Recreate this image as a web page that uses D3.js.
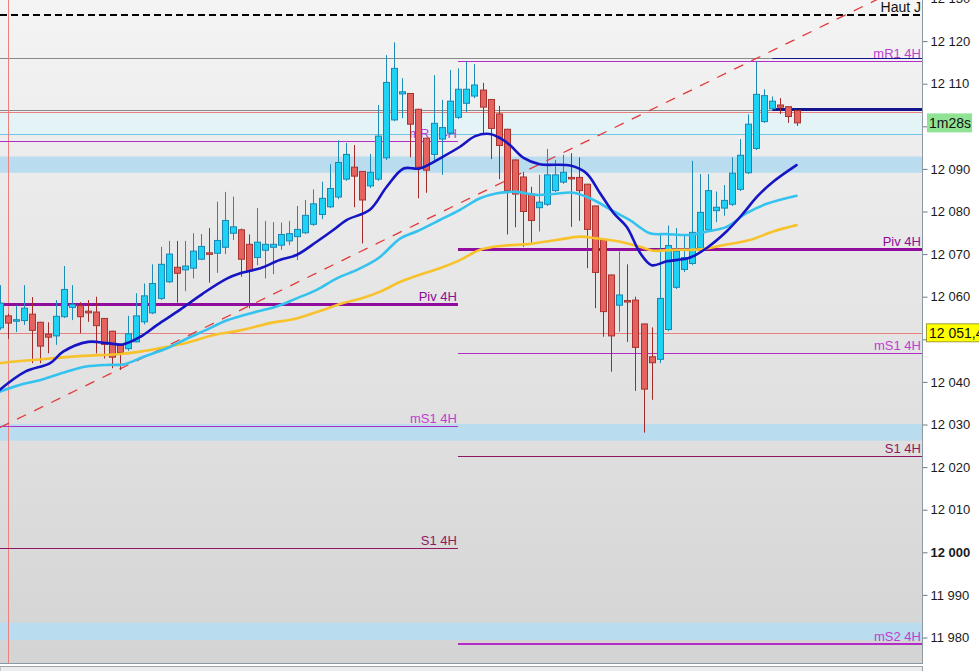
<!DOCTYPE html>
<html>
<head>
<meta charset="utf-8">
<script src="https://cdn.jsdelivr.net/npm/d3@7"></script>
<style>
  body { margin: 0; overflow: hidden; background: #fff; }
  svg { display: block; font-family: "Liberation Sans", Arial, sans-serif; }
</style>
</head>
<body>
<svg id="chart" width="979" height="671"></svg>
<script>
// candles, one per bar, index 1..100
const opens = [
  12052.7, 12055.5, 12054.4, 12054.4, 12055.9, 12054.0, 12051.2, 12050.8, 12055.3, 12057.5,
  12057.9, 12056.6, 12056.4, 12054.9, 12051.9, 12048.7, 12047.8, 12049.4, 12054.1, 12056.2,
  12059.6, 12063.5, 12066.9, 12066.3, 12066.7, 12068.8, 12070.3, 12070.2, 12071.6, 12074.9,
  12075.7, 12072.3, 12069.2, 12070.9, 12071.6, 12072.1, 12073.1, 12074.1, 12075.0, 12077.0,
  12079.3, 12081.1, 12083.4, 12087.6, 12090.4, 12089.4, 12086.0, 12087.6, 12092.6, 12101.5,
  12107.6, 12107.7, 12104.0, 12097.2, 12093.4, 12097.0, 12098.4, 12102.1, 12105.4, 12107.1,
  12108.5, 12106.3, 12102.9, 12099.3, 12092.1, 12088.1, 12084.1, 12080.9, 12081.7, 12084.9,
  12086.9, 12088.0, 12088.0, 12086.4, 12081.3, 12073.3, 12065.1, 12058.0, 12059.1, 12059.2,
  12053.6, 12045.9, 12045.3, 12052.3, 12062.2, 12066.4, 12067.8, 12071.4, 12075.7, 12080.2,
  12080.8, 12081.7, 12085.2, 12089.1, 12094.8, 12101.1, 12104.1, 12105.0, 12104.6, 12103.7
];
const highs = [
  12062.7, 12056.0, 12058.0, 12062.7, 12059.9, 12054.1, 12054.0, 12059.2, 12067.2, 12062.7,
  12058.7, 12059.2, 12060.0, 12055.0, 12052.0, 12048.8, 12055.5, 12060.8, 12063.1, 12067.6,
  12071.7, 12073.1, 12073.1, 12073.1, 12074.9, 12074.7, 12076.1, 12082.3, 12084.6, 12083.5,
  12076.0, 12074.6, 12080.8, 12077.8, 12077.5, 12077.4, 12077.8, 12081.3, 12082.7, 12085.2,
  12087.0, 12091.1, 12096.7, 12096.1, 12095.6, 12089.5, 12093.5, 12105.0, 12116.7, 12119.7,
  12111.3, 12107.8, 12104.1, 12097.3, 12112.0, 12106.2, 12113.2, 12113.6, 12115.2, 12114.6,
  12110.2, 12106.4, 12104.8, 12099.4, 12092.2, 12089.3, 12085.8, 12088.6, 12094.7, 12092.1,
  12093.3, 12093.7, 12092.7, 12086.5, 12081.4, 12073.4, 12065.2, 12070.6, 12067.6, 12060.0,
  12053.7, 12052.8, 12074.6, 12076.7, 12076.1, 12074.6, 12091.9, 12088.8, 12088.8, 12084.7,
  12086.2, 12092.7, 12097.0, 12102.8, 12115.2, 12108.7, 12107.0, 12106.6, 12104.7, 12103.8
];
const lows = [
  12052.2, 12050.1, 12051.7, 12053.4, 12044.4, 12044.4, 12046.7, 12048.7, 12055.0, 12054.5,
  12051.4, 12054.1, 12046.7, 12045.5, 12043.2, 12042.8, 12047.3, 12049.3, 12053.5, 12055.9,
  12059.2, 12063.2, 12058.6, 12061.3, 12064.3, 12068.6, 12063.3, 12065.6, 12070.0, 12073.3,
  12064.7, 12057.3, 12067.4, 12064.3, 12065.3, 12071.0, 12072.1, 12068.6, 12074.7, 12076.6,
  12078.2, 12080.8, 12082.9, 12087.2, 12081.0, 12072.5, 12085.5, 12087.2, 12092.1, 12101.2,
  12101.9, 12092.7, 12083.1, 12084.4, 12092.1, 12088.6, 12098.0, 12101.7, 12103.3, 12106.6,
  12098.1, 12092.3, 12087.6, 12074.6, 12076.3, 12071.7, 12072.7, 12075.3, 12081.3, 12084.6,
  12086.5, 12076.4, 12077.8, 12066.7, 12057.3, 12050.6, 12042.4, 12051.8, 12049.4, 12037.9,
  12028.1, 12035.8, 12044.4, 12051.9, 12061.8, 12065.8, 12067.4, 12071.0, 12075.2, 12077.5,
  12079.0, 12081.3, 12084.8, 12088.8, 12094.4, 12100.8, 12103.8, 12102.9, 12100.8, 12100.1
];
const closes = [
  12058.5, 12053.8, 12054.6, 12057.3, 12052.1, 12048.4, 12050.5, 12055.4, 12061.7, 12058.2,
  12055.3, 12056.2, 12053.2, 12048.8, 12045.8, 12046.9, 12051.3, 12055.5, 12060.2, 12063.1,
  12067.6, 12070.0, 12065.5, 12067.2, 12070.7, 12071.8, 12070.0, 12073.2, 12077.9, 12076.4,
  12068.8, 12066.1, 12072.8, 12072.3, 12072.3, 12074.6, 12074.8, 12075.8, 12079.1, 12081.8,
  12083.1, 12085.4, 12091.5, 12093.4, 12088.3, 12082.7, 12089.2, 12097.7, 12110.3, 12113.6,
  12108.1, 12100.5, 12090.4, 12089.7, 12100.7, 12099.7, 12105.9, 12108.7, 12108.7, 12109.7,
  12104.5, 12099.5, 12095.5, 12084.9, 12084.1, 12080.0, 12077.9, 12082.2, 12088.6, 12088.6,
  12089.2, 12087.7, 12084.9, 12075.8, 12065.7, 12056.5, 12050.8, 12060.4, 12058.9, 12048.1,
  12038.3, 12044.5, 12059.6, 12072.0, 12070.7, 12069.2, 12075.1, 12079.8, 12084.9, 12081.0,
  12082.6, 12089.0, 12093.2, 12100.5, 12107.5, 12107.2, 12105.9, 12104.5, 12102.3, 12100.8
];

// moving averages, [bar index, value]
const maFast = [
  [1, 12038.1], [4.2, 12042.4], [7.3, 12044.4], [8.9, 12047.1], [12, 12049.4], [14.4, 12049.1],
  [16.3, 12048.8], [18.5, 12050.6], [20.6, 12053.4], [23.4, 12056.9], [26.3, 12060.8], [29.3, 12064.3],
  [30.9, 12065.5], [33.4, 12066.7], [35.8, 12068.6], [37.9, 12069.8], [40.4, 12072.9], [42.5, 12075.7],
  [44.1, 12078.0], [47, 12080.4], [49.1, 12085.8], [51.2, 12090.1], [53.2, 12090.1], [56.1, 12092.9],
  [58.2, 12095.2], [60.1, 12097.7], [61.9, 12098.2], [63.2, 12097.2], [64.4, 12095.6], [66.1, 12092.6],
  [68.1, 12091.1], [71.9, 12090.8], [73.9, 12089.0], [75.6, 12084.3], [77.3, 12079.6], [78.9, 12076.4],
  [80.6, 12070.2], [82, 12067.4], [83.9, 12068.3], [86.8, 12069.2], [88.9, 12071.5], [91.3, 12075.3],
  [93.4, 12079.6], [95.1, 12083.5], [97.1, 12087.0], [100, 12090.9]
];
const maMid = [
  [1, 12037.7], [3.5, 12039.3], [6, 12040.4], [9.3, 12042.4], [11.8, 12043.6], [14.7, 12044.0],
  [16.4, 12044.1], [18.9, 12045.9], [21.8, 12047.9], [24.3, 12050.2], [26.7, 12052.2], [29.2, 12054.4],
  [33, 12056.5], [35.4, 12057.7], [37.9, 12059.6], [40.4, 12061.6], [42.9, 12064.3], [45.4, 12066.3],
  [47, 12067.8], [48.3, 12069.4], [50.8, 12073.7], [52.8, 12075.3], [55.7, 12078.0], [58.2, 12080.4],
  [60.7, 12083.1], [62.8, 12084.3], [65.2, 12084.6], [67.7, 12083.9], [69.8, 12084.1], [72.3, 12084.4],
  [74.8, 12082.7], [77.3, 12080.0], [79.3, 12078.0], [81.8, 12074.9], [83.9, 12074.7], [86.8, 12074.5],
  [88.9, 12075.3], [91.3, 12076.4], [93.8, 12079.6], [96.3, 12081.8], [100, 12083.7]
];
const maSlow = [
  [1, 12044.4], [3.5, 12044.9], [7.3, 12045.5], [11.4, 12046.1], [15.6, 12046.5], [18.5, 12047.1],
  [20.9, 12047.9], [24.3, 12049.2], [27.6, 12051.0], [30.9, 12052.1], [34.6, 12053.8], [37.9, 12054.9],
  [41.2, 12056.9], [43.7, 12058.5], [45.8, 12059.5], [48.3, 12061.2], [50.8, 12063.5], [52.8, 12064.9],
  [55.7, 12066.7], [58.2, 12068.6], [60.7, 12071.0], [63.2, 12071.9], [66.9, 12072.4], [70.2, 12073.3],
  [73.1, 12074.1], [75.2, 12073.7], [78.1, 12072.9], [80.6, 12071.7], [82.2, 12070.8], [84.7, 12071.0],
  [88, 12071.1], [90.9, 12072.1], [94.2, 12073.3], [97.1, 12075.3], [100, 12076.8]
];

// 4H pivot levels: previous session (left) and current session (right)
const sessionSplit = 57.95;
const prevLabels = ["mR1 4H", "Piv 4H", "mS1 4H", "S1 4H"];
const prevValues = [12096.5, 12058.2, 12029.6, 12000.9];
const curLabels = ["mR1 4H", "Piv 4H", "mS1 4H", "S1 4H", "mS2 4H"];
const curValues = [12115.3, 12071.2, 12046.9, 12022.6, 11978.5];

// other horizontal references
const dayHigh = 12126.1;                 // Haut J
const greyLevels = [12116.0, 12103.8];
const redLevels = [12103.3, 12051.4];
const cyanLevel = 12098.1;
const paleZone = [12103.3, 12098.1];
const blueZones = [[12092.9, 12089.1], [12030.1, 12026.2], [11983.5, 11979.4]];
const navyStart = 97;
const navyLevels = [12116.0, 12104.0];
const trendPoints = [[1.06, 12029.3], [95.84, 12116.7]];
const priceTicks = d3.range(11980, 12131, 10);
const hiddenTicks = [12100, 12050];      // covered by the price tags
const timerText = "1m28s";
const refPrice = 12051.4;

const W = 979, H = 671;
const plotW = 922, plotH = 663;

const svg = d3.select('#chart');

const x = d3.scaleLinear().domain([1, 100]).range([-0.5, 796.5]);
const y = d3.scaleLinear().domain([12000, 12100]).range([552.3, 126.3]);

const loc = d3.formatLocale({ decimal: ",", thousands: " ", grouping: [3], currency: ["", ""] });
const fmtTick = loc.format(",d");
const fmtPrice = loc.format(",.1f");

// background
const defs = svg.append('defs');
const grad = defs.append('linearGradient').attr('id', 'bg').attr('x1', 0).attr('y1', 0).attr('x2', 0).attr('y2', 1);
grad.append('stop').attr('offset', '0%').attr('stop-color', '#f4f4f4');
grad.append('stop').attr('offset', '100%').attr('stop-color', '#d4d4d4');
defs.append('clipPath').attr('id', 'clip').append('rect').attr('width', plotW).attr('height', plotH);

svg.append('rect').attr('width', W).attr('height', H).attr('fill', '#fff');
svg.append('rect').attr('width', plotW).attr('height', plotH).attr('fill', 'url(#bg)');

const g = svg.append('g').attr('clip-path', 'url(#clip)');

// zones
g.append('rect')
  .attr('x', 0).attr('width', plotW)
  .attr('y', y(paleZone[0])).attr('height', y(paleZone[1]) - y(paleZone[0]))
  .attr('fill', '#e3f3f6');

g.selectAll('.zone').data(blueZones).enter().append('rect')
  .attr('class', 'zone')
  .attr('x', 0).attr('width', plotW)
  .attr('y', d => y(d[0])).attr('height', d => y(d[1]) - y(d[0]))
  .attr('fill', '#b9dcee');

// horizontal line helper, snapped to pixel
function hline(v, x0, x1, color, w, dash) {
  const yy = w % 2 === 1 ? Math.round(y(v)) + 0.5 : Math.round(y(v));
  const l = g.append('line')
    .attr('x1', x0).attr('x2', x1)
    .attr('y1', yy).attr('y2', yy)
    .attr('stroke', color).attr('stroke-width', w);
  if (dash) l.attr('stroke-dasharray', dash);
  return l;
}

greyLevels.forEach(v => hline(v, 0, plotW, '#8a8a8a', 1));
redLevels.forEach(v => hline(v, 0, plotW, '#e88080', 1));
hline(cyanLevel, 0, plotW, '#6cc4e6', 1);
hline(dayHigh, 0, plotW, '#000', 2, '7,4');

// vertical day separator
g.append('line')
  .attr('x1', Math.round(x(2)) + 0.5).attr('x2', Math.round(x(2)) + 0.5)
  .attr('y1', 0).attr('y2', plotH)
  .attr('stroke', '#ee8080').attr('stroke-width', 1);

// pivot levels
function levelStyle(name) {
  if (name.startsWith('Piv')) return { c: '#900c9c', t: '#8a0c98', w: 3 };
  if (name.startsWith('S')) return { c: '#8e1860', t: '#8e1860', w: 1 };
  if (name.startsWith('mS2')) return { c: '#b42cc8', t: '#c03cd2', w: 2 };
  return { c: '#b42cc8', t: '#c03cd2', w: 1 };
}

const splitX = x(sessionSplit);
const levelSets = [
  { labels: prevLabels, values: prevValues, x0: 0, x1: splitX },
  { labels: curLabels, values: curValues, x0: splitX, x1: plotW }
];

levelSets.forEach(set => {
  set.values.forEach((v, k) => {
    const st = levelStyle(set.labels[k]);
    hline(v, set.x0, set.x1, st.c, st.w);
    g.append('text')
      .attr('x', set.x1 - 1)
      .attr('y', y(v) - 3)
      .attr('text-anchor', 'end')
      .attr('font-size', 13)
      .attr('fill', st.t)
      .text(set.labels[k]);
  });
});

// day high label
g.append('text')
  .attr('x', plotW - 1).attr('y', 12)
  .attr('text-anchor', 'end')
  .attr('font-size', 14)
  .attr('fill', '#111')
  .text('Haut J');

// navy lines at the right
navyLevels.forEach((v, k) => hline(v, x(navyStart), plotW, '#14148c', k === 0 ? 1 : 3));

// trend line, extended to the right edge
const slope = (trendPoints[1][1] - trendPoints[0][1]) / (trendPoints[1][0] - trendPoints[0][0]);
const iEnd = x.invert(plotW);
g.append('line')
  .attr('x1', x(trendPoints[0][0])).attr('y1', y(trendPoints[0][1]))
  .attr('x2', plotW).attr('y2', y(trendPoints[0][1] + slope * (iEnd - trendPoints[0][0])))
  .attr('stroke', '#e23a3a').attr('stroke-width', 1.3)
  .attr('stroke-dasharray', '10,9');

// candles
const candles = opens.map((o, k) => ({ i: k + 1, o: o, h: highs[k], l: lows[k], c: closes[k] }));
const bw = 6;

const cg = g.append('g');
const cs = cg.selectAll('g').data(candles).enter().append('g');

cs.append('line')
  .attr('x1', d => Math.round(x(d.i)) + 0.5)
  .attr('x2', d => Math.round(x(d.i)) + 0.5)
  .attr('y1', d => y(d.h)).attr('y2', d => y(d.l))
  .attr('stroke', d => d.c >= d.o ? '#1a8cb6' : '#a22a28')
  .attr('stroke-width', 1);

cs.append('rect')
  .attr('x', d => Math.round(x(d.i)) - bw / 2 + 0.5)
  .attr('y', d => y(Math.max(d.o, d.c)))
  .attr('width', bw)
  .attr('height', d => Math.max(1.5, Math.abs(y(d.o) - y(d.c))))
  .attr('fill', d => d.c >= d.o ? '#1ed2f6' : '#e6625e')
  .attr('stroke', d => d.c >= d.o ? '#1888b2' : '#a8322e')
  .attr('stroke-width', 1);

// moving averages
const line = d3.line()
  .x(d => x(d[0]))
  .y(d => y(d[1]))
  .curve(d3.curveCatmullRom.alpha(0.5));

[[maSlow, '#f7c22c'], [maMid, '#34c2ee'], [maFast, '#1515c4']].forEach(([data, col]) => {
  g.append('path')
    .datum(data)
    .attr('d', line)
    .attr('fill', 'none')
    .attr('stroke', col)
    .attr('stroke-width', 2.6)
    .attr('stroke-linejoin', 'round')
    .attr('stroke-linecap', 'round');
});

// right axis
const yAxis = d3.axisRight(y)
  .tickValues(priceTicks)
  .tickSize(5)
  .tickPadding(3)
  .tickFormat(d => hiddenTicks.includes(d) ? '' : fmtTick(d));

const ax = svg.append('g')
  .attr('transform', `translate(${plotW + 0.5},0)`)
  .call(yAxis);

ax.select('.domain').remove();
ax.selectAll('.tick line').attr('stroke', '#6a7a86');
ax.selectAll('.tick text')
  .attr('font-family', '"Liberation Sans", Arial, sans-serif')
  .attr('font-size', 13)
  .attr('fill', '#1a1a1a')
  .attr('font-weight', d => d === 12000 ? 'bold' : 'normal');

svg.append('line')
  .attr('x1', plotW + 0.5).attr('x2', plotW + 0.5)
  .attr('y1', 0).attr('y2', plotH)
  .attr('stroke', '#8a99a4').attr('stroke-width', 1);

// bottom border and strip
svg.append('line')
  .attr('x1', 0).attr('x2', plotW + 1)
  .attr('y1', plotH + 0.5).attr('y2', plotH + 0.5)
  .attr('stroke', '#8a99a4');
svg.append('rect')
  .attr('x', 0).attr('y', plotH + 3.5)
  .attr('width', plotW + 0.5).attr('height', 8)
  .attr('fill', '#ececec').attr('stroke', '#9aa4aa');

// timer label at last close
const lastY = y(closes[closes.length - 1]);
svg.append('rect')
  .attr('x', 927).attr('y', lastY - 9.5)
  .attr('width', 45).attr('height', 19)
  .attr('fill', '#90e394');
svg.append('text')
  .attr('x', 929).attr('y', lastY + 5)
  .attr('font-size', 14).attr('fill', '#111')
  .text(timerText);

// reference price label
const refY = y(refPrice);
svg.append('rect')
  .attr('x', 926.5).attr('y', refY - 9.5)
  .attr('width', 60).attr('height', 18)
  .attr('fill', '#ffff00').attr('stroke', '#8a8a20').attr('stroke-width', 0.8);
svg.append('text')
  .attr('x', 929).attr('y', refY + 5)
  .attr('font-size', 14).attr('fill', '#111')
  .text(fmtPrice(refPrice));
</script>
</body>
</html>
